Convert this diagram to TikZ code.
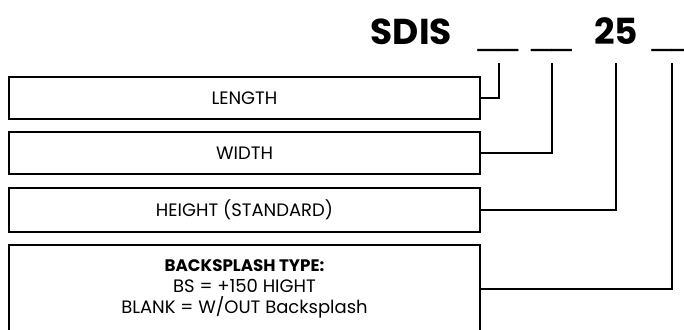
\documentclass[tikz,border=0pt]{standalone}
\usepackage{fontspec}
\setmainfont{Poppins}
\newfontfamily\barfont{Liberation Sans}

\begin{document}
\begin{tikzpicture}[x=0.75pt,y=-0.75pt,line width=1.8pt]
	\useasboundingbox (0,0) rectangle (684,329);
	\clip (0,0) rectangle (684,329);
	\begin{scope}[every node/.style={inner sep=0pt,font=\bfseries\fontsize{27}{32}\selectfont}]
		\node[anchor=base east] (0) at (453,44) {SDIS};
		\node[anchor=base,font=\barfont\fontsize{27}{32}\selectfont] (u1) at (498,44) {\_\_};
		\node[anchor=base,font=\barfont\fontsize{27}{32}\selectfont] (u2) at (551.5,44) {\_\_};
		\node[anchor=base] (u3) at (616,44) {25};
		\node[anchor=base,font=\barfont\fontsize{27}{32}\selectfont] (u4) at (672,44) {\_\_};
	\end{scope}
	\coordinate (c1) at (499,63);
	\coordinate (c2) at (552,63);
	\coordinate (c3) at (616,63);
	\coordinate (c4) at (672,63);

	\begin{scope}[every node/.style={draw,minimum width=353.25pt,align=center,
	              font=\fontsize{13.5}{15.5}\selectfont}]
		\node[minimum height=31.5pt] (1) at (244.5,98) {LENGTH};
		\node[minimum height=31.5pt] (2) at (244.5,153) {WIDTH};
		\node[minimum height=33pt] (3) at (244.5,210) {HEIGHT (STANDARD)};
		\node[minimum height=66pt] (4) at (244.5,289)
			{{\fontsize{12.5}{15.5}\selectfont\textbf{BACKSPLASH TYPE:}}\\BS = +150 HIGHT\\BLANK = W/OUT Backsplash};
	\end{scope}

	\draw (1.east) -| (c1);
	\draw (2.east) -| (c2);
	\draw (3.east) -| (c3);
	\draw (4.east) -| (c4);
\end{tikzpicture}
\end{document}
